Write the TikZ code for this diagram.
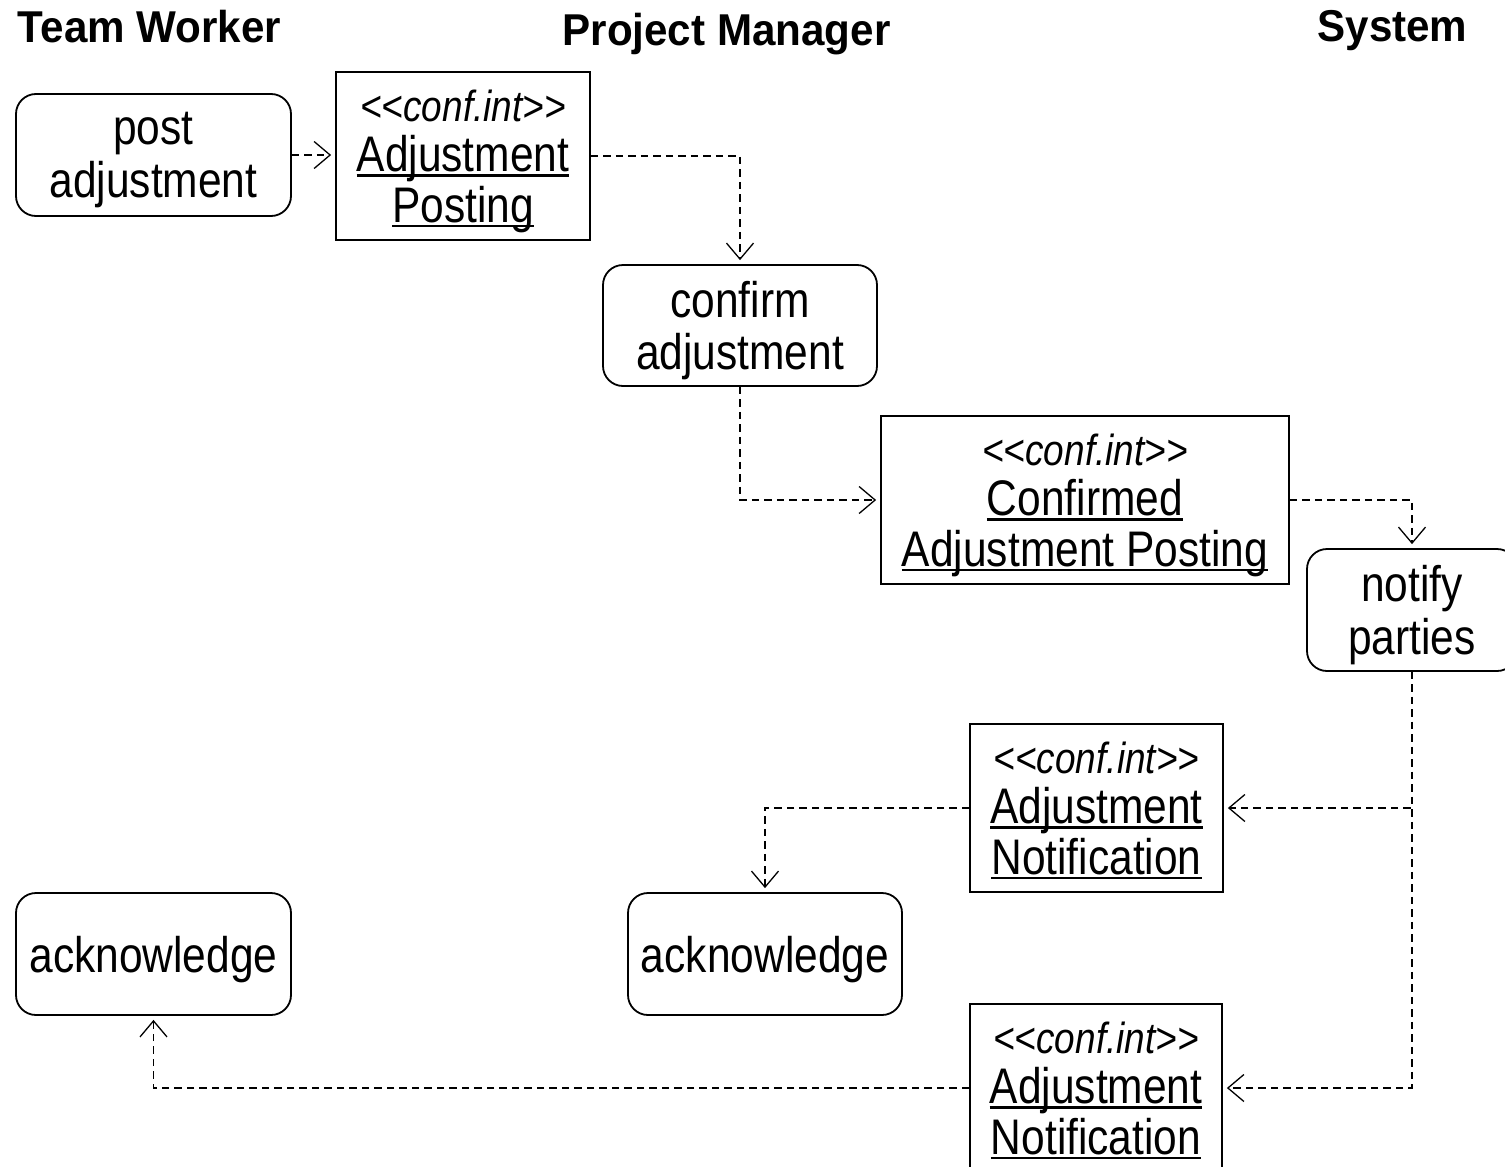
\documentclass[tikz,border=0pt]{standalone}
\usepackage{fontspec}
\usetikzlibrary{arrows.meta}
\newfontfamily\dfont[FakeStretch=0.85]{Liberation Sans}
\newfontfamily\hfont[FakeStretch=0.945]{Liberation Sans}
\newsavebox\ulbox
% underlined object name, rule sits just below the baseline
\newcommand\ulname[1]{\sbox\ulbox{#1}\rlap{\rule[-5pt]{\wd\ulbox}{2.6pt}}\usebox\ulbox}
% stereotype line of an object box
\newcommand\stereo{{\fontsize{43.5}{51}\selectfont\itshape <\kern0pt<conf.int>\kern0pt>}}
% open V-shaped arrow tip for object flows
\pgfdeclarearrow{
  name = OpenVee,
  parameters = {\the\pgfarrowlength,\the\pgfarrowwidth,\the\pgfarrowlinewidth},
  setup code = {
    \pgfarrowssettipend{0pt}
    \pgfarrowssetlineend{-0.5\pgfarrowlinewidth}
    \pgfarrowssetbackend{-\pgfarrowlength}
    \pgfarrowsupperhullpoint{-\pgfarrowlength}{.5\pgfarrowwidth}
    \pgfarrowsupperhullpoint{0pt}{0pt}
    \pgfarrowssavethe\pgfarrowlength
    \pgfarrowssavethe\pgfarrowwidth
    \pgfarrowssavethe\pgfarrowlinewidth
  },
  drawing code = {
    \pgfsetdash{}{0pt}
    \pgfsetlinewidth{\pgfarrowlinewidth}
    \pgfsetmiterjoin
    \pgfpathmoveto{\pgfqpoint{-\pgfarrowlength}{.5\pgfarrowwidth}}
    \pgfpathlineto{\pgfpointorigin}
    \pgfpathlineto{\pgfqpoint{-\pgfarrowlength}{-.5\pgfarrowwidth}}
    \pgfusepathqstroke
  },
  defaults = {length=16pt, width=27pt, line width=1.3pt}
}
\begin{document}
\begin{tikzpicture}[x=1pt,y=-1pt,
  base/.style={draw=black,line width=1.8pt,inner sep=0pt,align=center,text depth=0pt},
  action/.style={base,rectangle,rounded corners=20pt,minimum width=275pt,minimum height=122pt,
    font=\dfont\fontsize{50}{52.5}\selectfont},
  object/.style={base,rectangle,minimum height=168pt,
    font=\dfont\fontsize{50}{50.5}\selectfont},
  lane/.style={anchor=base,inner sep=0pt,font=\hfont\bfseries\fontsize{44.6}{50}\selectfont},
  flow/.style={draw=black,line width=1.3pt,dash pattern=on 7.5pt off 5pt,
    -{OpenVee[length=16pt,width=27pt,line width=1.3pt]},shorten >=5pt}]
\useasboundingbox (0,0) rectangle (1505,1167);

% swimlane headings
\node[lane] (tw) at (149.5,42) {Team Worker};
\node[lane] (pm) at (726.5,45) {Project Manager};
\node[lane] (sys) at (1392.5,41) {System};

% actions
\node[action] (post) at (153.5,155) {post\\adjustment};
\node[action,minimum width=274pt,minimum height=121pt] (confirm) at (740,325.5) {confirm\\adjustment};
\node[action,minimum width=210pt] (notify) at (1412,610) {notify\\parties};
\node[action,minimum width=274pt] (ackpm) at (765,954) {acknowledge};
\node[action] (acktw) at (153.5,954) {acknowledge};

% exchanged objects
\node[object,minimum width=254pt] (ap) at (463,156) {\stereo\\\ulname{Adjustment}\\\ulname{Posting}};
\node[object,minimum width=408pt] (cap) at (1085,500) {\stereo\\\ulname{Confirmed}\\\ulname{Adjustment Posting}};
\node[object,minimum width=253pt] (an1) at (1096.5,808) {\stereo\\\ulname{Adjustment}\\\ulname{Notification}};
\node[object,minimum width=252pt] (an2) at (1096,1088) {\stereo\\\ulname{Adjustment}\\\ulname{Notification}};

% object flows
\draw[flow] (post.east) -- (post.east -| ap.west);
\draw[flow] (ap.east) -| (confirm.north);
\draw[flow] (confirm.south) |- (cap.west);
\draw[flow] (cap.east) -| (notify.north);
\draw[flow] (notify.south) |- (an1.east);
\draw[flow] (notify.south) |- (an2.east);
\draw[flow] (an1.west) -| (ackpm.north);
\draw[flow] (an2.west) -| (acktw.south);
\end{tikzpicture}
\end{document}
